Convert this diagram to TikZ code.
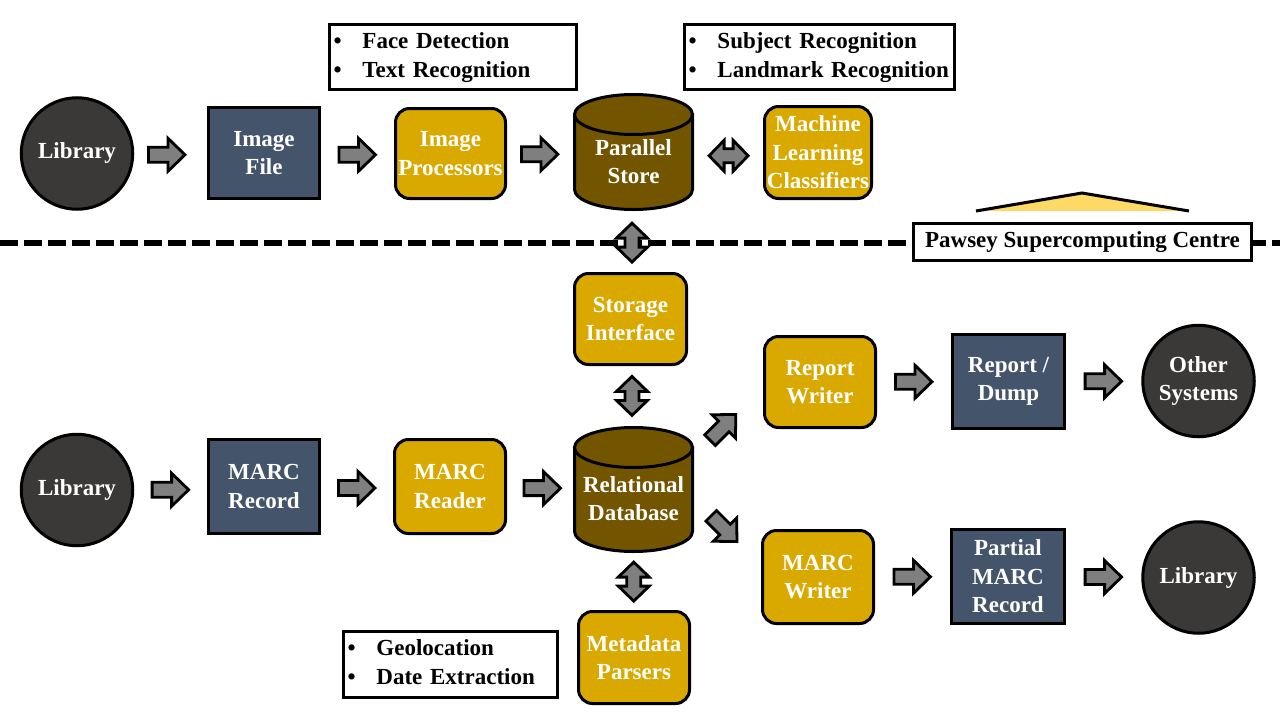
\documentclass[tikz,border=0pt]{standalone}
\usepackage{fontspec}
\setmainfont{Liberation Serif}
\usetikzlibrary{calc}
\definecolor{circfill}{HTML}{3B3838}
\definecolor{slate}{HTML}{44546A}
\definecolor{gold}{HTML}{DAA900}
\definecolor{cylbrown}{HTML}{735500}
\definecolor{arrowgray}{HTML}{7F7F7F}
\definecolor{triyellow}{HTML}{FFD966}
\tikzset{
  nodetext/.style={text=white, font=\bfseries\fontsize{23}{28.5}\selectfont, align=center, inner sep=1pt},
  libnode/.style={nodetext, circle, draw, line width=3pt, fill=circfill, minimum size=111.5},
  recbox/.style={nodetext, rectangle, draw, line width=3pt, fill=slate},
  procbox/.style={nodetext, rectangle, rounded corners=14pt, draw, line width=3pt, fill=gold},
  cyl/.style={draw, line width=3pt, fill=cylbrown},
  bullbox/.style={draw, line width=3pt, fill=white, text=black, font=\bfseries\fontsize{23}{29}\selectfont, align=left, inner xsep=4pt, inner ysep=0pt},
  labelbox/.style={draw, line width=3pt, fill=white, text=black, font=\bfseries\fontsize{23}{29}\selectfont, inner sep=0pt},
  blockarrow/.style={draw, line width=2.8pt, fill=arrowgray, line join=miter},
  sarrow/.pic={\path[blockarrow] (-18.5,-7.5) -- (1,-7.5) -- (1,-16.5) -- (18,0) -- (1,16.5) -- (1,7.5) -- (-18.5,7.5) -- cycle;},
  darrow/.pic={\path[blockarrow] (-19.5,0) -- (-4.5,-15.5) -- (-4.5,-7) -- (4.5,-7) -- (4.5,-15.5) -- (19.5,0) -- (4.5,15.5) -- (4.5,7) -- (-4.5,7) -- (-4.5,15.5) -- cycle;},
}
\begin{document}
\begin{tikzpicture}[x=1pt,y=-1pt]
\fill[white] (0,0) rectangle (1280,720);
\useasboundingbox (0,0) rectangle (1280,720);

% dashed boundary
\draw[line width=6pt, dash pattern=on 18pt off 6pt] (0,242.5) -- (1280,242.5);
% triangle marker
\fill[triyellow] (976,211) -- (1082,193) -- (1189,211) -- cycle;
\draw[line width=3pt] (976,211) -- (1082,193) -- (1189,211);
\node[labelbox, minimum width=338, minimum height=37] (pawsey) at (1082.5,242) {Pawsey Supercomputing Centre};

% top row
\node[libnode] (lib1) at (77,153.5) {Library};
\node[recbox, minimum width=111, minimum height=91] (imgfile) at (264,153) {Image\\File};
\node[procbox, minimum width=110, minimum height=90] (imgproc) at (450.5,153.5) {Image\\Processors};
% parallel store cylinder
\node[minimum width=121, minimum height=118, inner sep=0pt] (pstore) at (633.5,152) {};
\path[cyl] (574.5,114.5) -- (574.5,189.5) arc[start angle=180, end angle=360, x radius=59pt, y radius=20pt] -- (692.5,114.5) -- cycle;
\path[cyl] (633.5,114.5) ellipse[x radius=59pt, y radius=20pt];
\node[nodetext] (pslabel) at (633.5,161.5) {Parallel\\Store};
\node[procbox, minimum width=107, minimum height=92] (mlc) at (818,152.5) {Machine\\Learning\\Classifiers};

\node[bullbox, minimum width=247, minimum height=65, text width=239] (b1) at (453,57)
  {\begin{tabular}{@{}p{29pt}@{}l@{}}\textbullet & Face Detection\\ \textbullet & Text Recognition\end{tabular}};
\node[bullbox, minimum width=270, minimum height=65, text width=262] (b2) at (819.5,57)
  {\begin{tabular}{@{}p{29pt}@{}l@{}}\textbullet & Subject Recognition\\ \textbullet & Landmark Recognition\end{tabular}};

% centre column
\node[procbox, minimum width=112, minimum height=91] (stor) at (630.5,319) {Storage\\Interface};
\node[minimum width=121, minimum height=127, inner sep=0pt] (rdb) at (633.5,489.5) {};
\path[cyl] (574.5,447.5) -- (574.5,531.5) arc[start angle=180, end angle=360, x radius=59pt, y radius=20pt] -- (692.5,447.5) -- cycle;
\path[cyl] (633.5,447.5) ellipse[x radius=59pt, y radius=20pt];
\node[nodetext] (rdblabel) at (633.5,498.5) {Relational\\Database};
\node[procbox, minimum width=111, minimum height=92] (meta) at (634,657.5) {Metadata\\Parsers};
\node[bullbox, minimum width=214, minimum height=66, text width=206] (b3) at (450.5,664)
  {\begin{tabular}{@{}p{29pt}@{}l@{}}\textbullet & Geolocation\\ \textbullet & Date Extraction\end{tabular}};

% bottom row
\node[libnode] (lib2) at (77,490) {Library};
\node[recbox, minimum width=111, minimum height=94] (mrec) at (264,486.5) {MARC\\Record};
\node[procbox, minimum width=111, minimum height=94] (mread) at (450,486.5) {MARC\\Reader};
\node[procbox, minimum width=111, minimum height=91] (rw) at (820,382) {Report\\Writer};
\node[procbox, minimum width=111, minimum height=93] (mw) at (818,577) {MARC\\Writer};
\node[recbox, minimum width=112, minimum height=94] (rd) at (1008.5,381.5) {Report /\\Dump};
\node[recbox, minimum width=113, minimum height=94] (pmr) at (1008,576.5) {Partial\\MARC\\Record};
\node[libnode] (os) at (1198.5,381) {Other\\Systems};
\node[libnode] (lib3) at (1198.5,577.5) {Library};

% block arrows
\pic at ($(lib1.east)!0.45!(imgfile.west)+(0,1.5)$) {sarrow};
\pic at ($(imgfile.east)!0.5!(imgproc.west)+(0,1.5)$) {sarrow};
\pic at ($(imgproc.east)!0.5!(pstore.west)+(0,1.5)$) {sarrow};
\pic at ($(pstore.east)!0.5!(mlc.west)+(0,3.5)$) {darrow};
\pic[rotate=90] at ($(pstore.south)!0.5!(stor.north)+(0,1)$) {darrow};
\pic[rotate=90] at ($(stor.south)!0.5!(rdb.north)$) {darrow};
\pic[rotate=90] at ($(rdb.south)!0.5!(meta.north)$) {darrow};
\pic at ($(lib2.east)!0.5!(mrec.west)+(0,1.5)$) {sarrow};
\pic at ($(mrec.east)!0.5!(mread.west)+(0,1.5)$) {sarrow};
\pic at ($(mread.east)!0.54!(rdb.west)$) {sarrow};
\pic[rotate=45] at ($(rdb.north east)!0.42!(rw.south west)$) {sarrow};
\pic[rotate=-45] at ($(rdb.east)!0.45!(mw.west)$) {sarrow};
\pic at ($(rw.east)!0.5!(rd.west)$) {sarrow};
\pic at ($(rd.east)!0.5!(os.west)$) {sarrow};
\pic at ($(mw.east)!0.5!(pmr.west)$) {sarrow};
\pic at ($(pmr.east)!0.5!(lib3.west)$) {sarrow};
\end{tikzpicture}
\end{document}
